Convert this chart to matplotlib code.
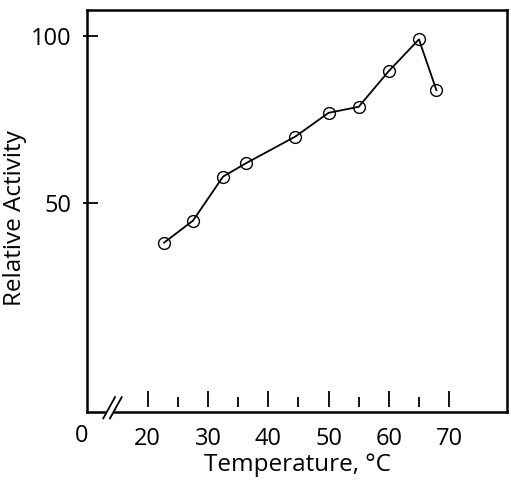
import numpy as np
import matplotlib.pyplot as plt
from matplotlib.transforms import blended_transform_factory

plt.rcParams['font.family'] = ['Open Sans', 'DejaVu Sans']

# relative activity vs temperature
temps = [22.7, 27.5, 32.5, 36.3, 44.5, 50.0, 55.0, 60.0, 65.0, 67.9]
activity = [38.1, 44.7, 57.9, 61.9, 69.9, 77.0, 78.8, 89.5, 99.0, 83.8]

x_major = [20, 30, 40, 50, 60, 70]
x_minor = [25, 35, 45, 55, 65]
y_major = [50, 100]

fig = plt.figure(figsize=(5.11, 4.8), dpi=100)
ax = fig.add_axes([0.170, 0.1417, 0.822, 0.8375])

ax.plot(temps, activity, color='black', lw=1.3, marker='o', ms=8.5,
        mfc='none', mec='black', mew=1.0, zorder=3)

ax.set_xlim(9.9, 79.6)
ax.set_ylim(-12.6, 107.8)

for s in ax.spines.values():
    s.set_linewidth(1.8)

# tick marks drawn by hand: x ticks float above the axis, y ticks cross it
bx = blended_transform_factory(ax.transData, ax.transAxes)
ax.vlines(x_major, 0.012, 0.052, transform=bx, color='black', lw=1.3)
ax.vlines(x_minor, 0.012, 0.037, transform=bx, color='black', lw=1.3)
by = blended_transform_factory(ax.transAxes, ax.transData)
ax.hlines(y_major, -0.009, 0.026, transform=by, color='black', lw=1.3,
          clip_on=False)

ax.set_xticks(x_major)
ax.set_xticklabels([str(v) for v in x_major])
ax.set_yticks(y_major)
ax.set_yticklabels([str(v) for v in y_major])
ax.tick_params(axis='x', length=0, pad=11, labelsize=17)
ax.tick_params(axis='y', length=0, pad=11, labelsize=17)

# the "0" at the start of the broken axis
ax.text(9.1, -0.03, '0', transform=bx, ha='center', va='top', fontsize=17)

# axis break
brk_a = [(0.039, -0.016), (0.067, 0.037)]
brk_b = [(0.055, -0.016), (0.083, 0.037)]
gap = plt.Polygon([brk_a[0], brk_a[1], brk_b[1], brk_b[0]], closed=True,
                  transform=ax.transAxes, color='white', clip_on=False, zorder=4)
ax.add_patch(gap)
for seg in (brk_a, brk_b):
    ax.plot([seg[0][0], seg[1][0]], [seg[0][1], seg[1][1]], color='black',
            lw=1.3, transform=ax.transAxes, clip_on=False, zorder=5)

fig.text(297 / 511, 1 - 465 / 480, 'Temperature, °C', fontsize=17.5,
         ha='center', va='center')
fig.text(15 / 511, 1 - 218 / 480, 'Relative Activity', fontsize=17.5,
         rotation=90, ha='center', va='center')

fig.savefig('out.png', dpi=100)
